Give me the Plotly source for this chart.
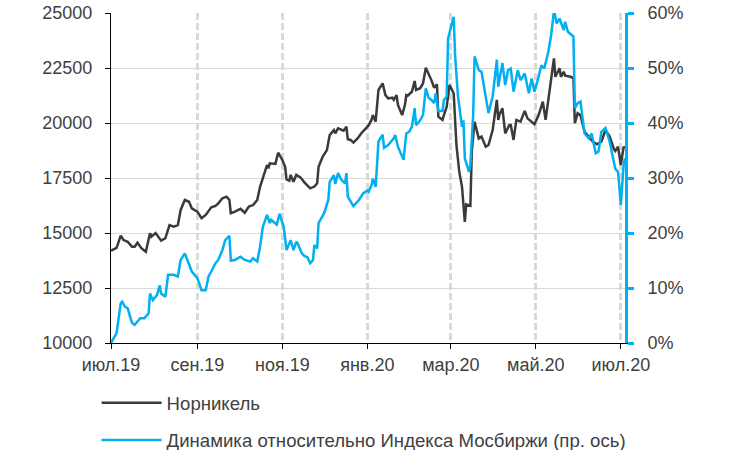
import plotly.graph_objects as go

# ---------------- data ----------------
nornickel_dates = [
    "2019-07-01","2019-07-05","2019-07-08","2019-07-10","2019-07-13","2019-07-16","2019-07-18","2019-07-20",
    "2019-07-23","2019-07-26","2019-07-29","2019-07-30","2019-08-02","2019-08-04","2019-08-06","2019-08-09",
    "2019-08-12","2019-08-15","2019-08-18","2019-08-20","2019-08-23","2019-08-26","2019-08-28","2019-09-01",
    "2019-09-04","2019-09-07","2019-09-09","2019-09-11","2019-09-14","2019-09-16","2019-09-19","2019-09-22",
    "2019-09-24","2019-09-25","2019-09-28","2019-10-02","2019-10-05","2019-10-08","2019-10-11","2019-10-14",
    "2019-10-16","2019-10-18","2019-10-21","2019-10-22","2019-10-23","2019-10-27","2019-10-29","2019-11-01",
    "2019-11-03","2019-11-04","2019-11-06","2019-11-07","2019-11-09","2019-11-11","2019-11-14","2019-11-17",
    "2019-11-21","2019-11-24","2019-11-26","2019-11-27","2019-11-30","2019-12-03","2019-12-05","2019-12-08",
    "2019-12-09","2019-12-11","2019-12-15","2019-12-17","2019-12-18","2019-12-20","2019-12-22","2019-12-25",
    "2019-12-28","2019-12-31","2020-01-02","2020-01-04","2020-01-05","2020-01-07","2020-01-09","2020-01-12",
    "2020-01-14","2020-01-16","2020-01-19","2020-01-20","2020-01-22","2020-01-23","2020-01-26","2020-01-28",
    "2020-01-29","2020-01-30","2020-02-02","2020-02-04","2020-02-05","2020-02-08","2020-02-10","2020-02-12",
    "2020-02-14","2020-02-16","2020-02-18","2020-02-20","2020-02-21","2020-02-24","2020-02-25","2020-02-27",
    "2020-02-29","2020-03-03","2020-03-05","2020-03-07","2020-03-09","2020-03-11","2020-03-12","2020-03-15",
    "2020-03-16","2020-03-18","2020-03-21","2020-03-23","2020-03-26","2020-03-28","2020-03-31","2020-04-03",
    "2020-04-04","2020-04-05","2020-04-07","2020-04-09","2020-04-12","2020-04-13","2020-04-15","2020-04-17",
    "2020-04-20","2020-04-23","2020-04-25","2020-04-28","2020-04-30","2020-05-03","2020-05-06","2020-05-08",
    "2020-05-11","2020-05-14","2020-05-15","2020-05-18","2020-05-19","2020-05-21","2020-05-22","2020-05-26",
    "2020-05-28","2020-05-29","2020-05-31","2020-06-02","2020-06-05","2020-06-08","2020-06-11","2020-06-14",
    "2020-06-17","2020-06-20","2020-06-23","2020-06-26","2020-06-27","2020-06-29","2020-07-01","2020-07-03",
    "2020-07-04",
]
nornickel_values = [
    14200,14320,14880,14680,14600,14380,14380,14560,
    14300,14150,14990,14830,15000,14830,14650,14760,
    15360,15290,15360,16050,16500,16420,16120,15970,
    15670,15820,15970,16170,16230,16350,16580,16650,
    16500,15900,15970,16100,15920,16200,16270,16500,
    17100,17480,18090,17940,18170,18140,18650,18320,
    18010,17440,17380,17640,17330,17640,17530,17290,
    17030,17110,17260,18010,18470,18770,19450,19680,
    19530,19760,19650,19830,19260,19230,19110,19300,
    19560,19760,19900,20140,20360,20060,21500,21800,
    21270,21120,21150,21050,21270,20820,20360,20820,
    21270,21240,21420,21910,21500,21580,21800,22510,
    22260,21950,21600,21760,20290,20140,20360,20740,
    21730,21350,19000,17790,17100,15510,16300,16240,
    18700,20060,19300,19380,18920,19000,19680,21050,
    20140,20400,20670,19530,19910,19910,19230,20140,
    20060,20550,20210,20060,19940,20360,20970,20140,
    21650,22940,22100,22490,22100,22330,22150,22100,
    22030,19990,20440,20360,19600,19380,19150,19030,
    19150,19680,19380,18820,18730,18920,18090,18920,
    18850,
]

relative_dates = [
    "2019-07-01","2019-07-05","2019-07-08","2019-07-09","2019-07-11","2019-07-13","2019-07-16","2019-07-18",
    "2019-07-20","2019-07-22","2019-07-25","2019-07-28","2019-07-29","2019-07-31","2019-08-03","2019-08-05",
    "2019-08-06","2019-08-09","2019-08-11","2019-08-15","2019-08-18","2019-08-20","2019-08-23","2019-08-25",
    "2019-08-28","2019-09-01","2019-09-04","2019-09-07","2019-09-09","2019-09-11","2019-09-14","2019-09-16",
    "2019-09-19","2019-09-21","2019-09-24","2019-09-25","2019-09-28","2019-10-02","2019-10-05","2019-10-09",
    "2019-10-11","2019-10-14","2019-10-16","2019-10-18","2019-10-21","2019-10-23","2019-10-24","2019-10-28",
    "2019-10-30","2019-11-02","2019-11-04","2019-11-07","2019-11-09","2019-11-11","2019-11-12","2019-11-15",
    "2019-11-17","2019-11-19","2019-11-21","2019-11-23","2019-11-24","2019-11-26","2019-11-27","2019-12-01",
    "2019-12-04","2019-12-05","2019-12-08","2019-12-09","2019-12-11","2019-12-13","2019-12-16","2019-12-17",
    "2019-12-18","2019-12-22","2019-12-26","2019-12-29","2020-01-01","2020-01-02","2020-01-04","2020-01-05",
    "2020-01-07","2020-01-09","2020-01-12","2020-01-13","2020-01-16","2020-01-20","2020-01-21","2020-01-23",
    "2020-01-24","2020-01-27","2020-01-29","2020-01-31","2020-02-02","2020-02-04","2020-02-05","2020-02-08",
    "2020-02-10","2020-02-12","2020-02-14","2020-02-16","2020-02-18","2020-02-19","2020-02-21","2020-02-24",
    "2020-02-25","2020-02-27","2020-02-28","2020-03-01","2020-03-03","2020-03-04","2020-03-06","2020-03-09",
    "2020-03-10","2020-03-11","2020-03-14","2020-03-15","2020-03-17","2020-03-18","2020-03-21","2020-03-23",
    "2020-03-26","2020-03-28","2020-03-31","2020-04-03","2020-04-04","2020-04-07","2020-04-09","2020-04-11",
    "2020-04-13","2020-04-15","2020-04-18","2020-04-20","2020-04-23","2020-04-26","2020-04-28","2020-04-30",
    "2020-05-02","2020-05-05","2020-05-07","2020-05-10","2020-05-12","2020-05-14","2020-05-16","2020-05-18",
    "2020-05-21","2020-05-22","2020-05-24","2020-05-28","2020-05-29","2020-05-31","2020-06-02","2020-06-05",
    "2020-06-08","2020-06-10","2020-06-13","2020-06-15","2020-06-17","2020-06-20","2020-06-23","2020-06-25",
    "2020-06-27","2020-06-29","2020-07-01","2020-07-03","2020-07-04",
]
relative_values = [
    0.0,1.8,7.2,7.5,6.6,6.3,3.7,3.3,
    3.9,4.5,4.5,5.4,9.0,7.8,8.7,10.5,
    9.0,8.4,12.4,12.4,12.1,15.1,16.3,15.1,
    13.0,11.8,9.6,9.6,12.1,13.0,14.5,15.1,
    16.9,18.7,19.5,15.0,15.1,15.7,15.1,14.8,
    15.4,14.8,17.5,21.1,23.3,21.8,22.4,21.5,
    23.5,21.1,16.9,18.7,16.9,18.4,18.1,16.3,
    15.8,15.6,14.5,15.1,17.8,17.2,21.8,23.6,
    26.0,29.3,30.5,28.9,30.9,29.8,29.0,30.9,
    26.6,24.9,26.0,27.2,27.7,27.5,28.7,29.9,
    28.4,36.6,37.9,35.5,36.0,37.2,37.8,35.7,
    35.1,33.3,38.1,38.4,39.3,42.7,39.6,40.5,
    41.5,46.3,44.6,44.2,43.6,45.4,42.2,42.2,
    44.2,44.8,55.4,57.2,59.3,52.4,45.1,39.3,
    40.5,33.6,31.1,32.4,41.5,52.1,49.6,49.3,
    44.5,41.8,44.8,51.5,46.6,50.9,46.9,49.6,
    49.9,45.7,49.6,47.8,49.0,45.4,48.1,45.7,
    47.5,50.5,49.9,53.0,56.0,60.5,58.1,59.0,
    56.9,58.4,56.6,55.7,42.7,43.6,43.9,38.1,
    37.2,38.1,34.5,34.8,38.4,39.1,36.6,33.9,
    31.7,31.1,25.1,32.4,33.6,
]

tick_dates = ["2019-07-01","2019-09-01","2019-11-01","2020-01-01","2020-03-01","2020-05-01","2020-07-01"]
tick_labels = ["июл.19","сен.19","ноя.19","янв.20","мар.20","май.20","июл.20"]

series_names = ["Норникель", "Динамика относительно Индекса Мосбиржи (пр. ось)"]

# ---------------- styling ----------------
FONT = "Liberation Sans, Arial, sans-serif"
TXT = "#404040"
DARK = "#3a3a3a"
BLUE = "#00b0f0"
GRID = "#d9d9d9"

fig = go.Figure()
fig.add_trace(go.Scatter(x=nornickel_dates, y=nornickel_values, name=series_names[0],
                         legendgroup="g1",
                         mode="lines", line=dict(color=DARK, width=2.5), yaxis="y"))
fig.add_trace(go.Scatter(x=relative_dates, y=relative_values, name=series_names[1],
                         legendgroup="g2",
                         mode="lines", line=dict(color=BLUE, width=2.5), yaxis="y2"))

fig.update_layout(
    width=734, height=450,
    margin=dict(l=111, r=109, t=13, b=107, autoexpand=False),
    paper_bgcolor="white", plot_bgcolor="white",
    font=dict(family=FONT, size=18, color=TXT),
    showlegend=True,
    legend=dict(orientation="v", x=-0.028, xanchor="left", y=-0.125, yanchor="top",
                font=dict(size=18.6, color=TXT), itemwidth=60, tracegroupgap=10,
                bgcolor="rgba(0,0,0,0)"),
    xaxis=dict(
        type="date", range=["2019-07-01", "2020-07-04"],
        tickvals=tick_dates, ticktext=tick_labels, automargin=False,
        showgrid=True, gridcolor=GRID, gridwidth=3, griddash="7px,3px",
        showline=True, linecolor="black", linewidth=1,
        ticks="outside", ticklen=5, tickcolor="black", tickwidth=1,
        tickfont=dict(size=18, color=TXT), zeroline=False,
    ),
    yaxis=dict(
        range=[10000, 25000], dtick=2500, tick0=10000, tickformat="d", automargin=False,
        showgrid=True, gridcolor=GRID, gridwidth=1,
        showline=True, linecolor="black", linewidth=1,
        ticks="outside", ticklen=5, tickcolor="black",
        tickfont=dict(size=18, color=TXT), ticklabelstandoff=9, zeroline=False,
    ),
    yaxis2=dict(
        range=[0, 60], dtick=10, tick0=0, ticksuffix="%", automargin=False,
        overlaying="y", side="right", showgrid=False,
        showline=True, linecolor=BLUE, linewidth=3,
        ticks="outside", ticklen=6, tickcolor=BLUE, tickwidth=3,
        tickfont=dict(size=18, color=TXT), ticklabelstandoff=10, zeroline=False,
    ),
)

fig.write_html("out.html",
               config={"displayModeBar": False},
               post_script="document.body.style.margin='0';document.body.style.overflow='hidden';")
